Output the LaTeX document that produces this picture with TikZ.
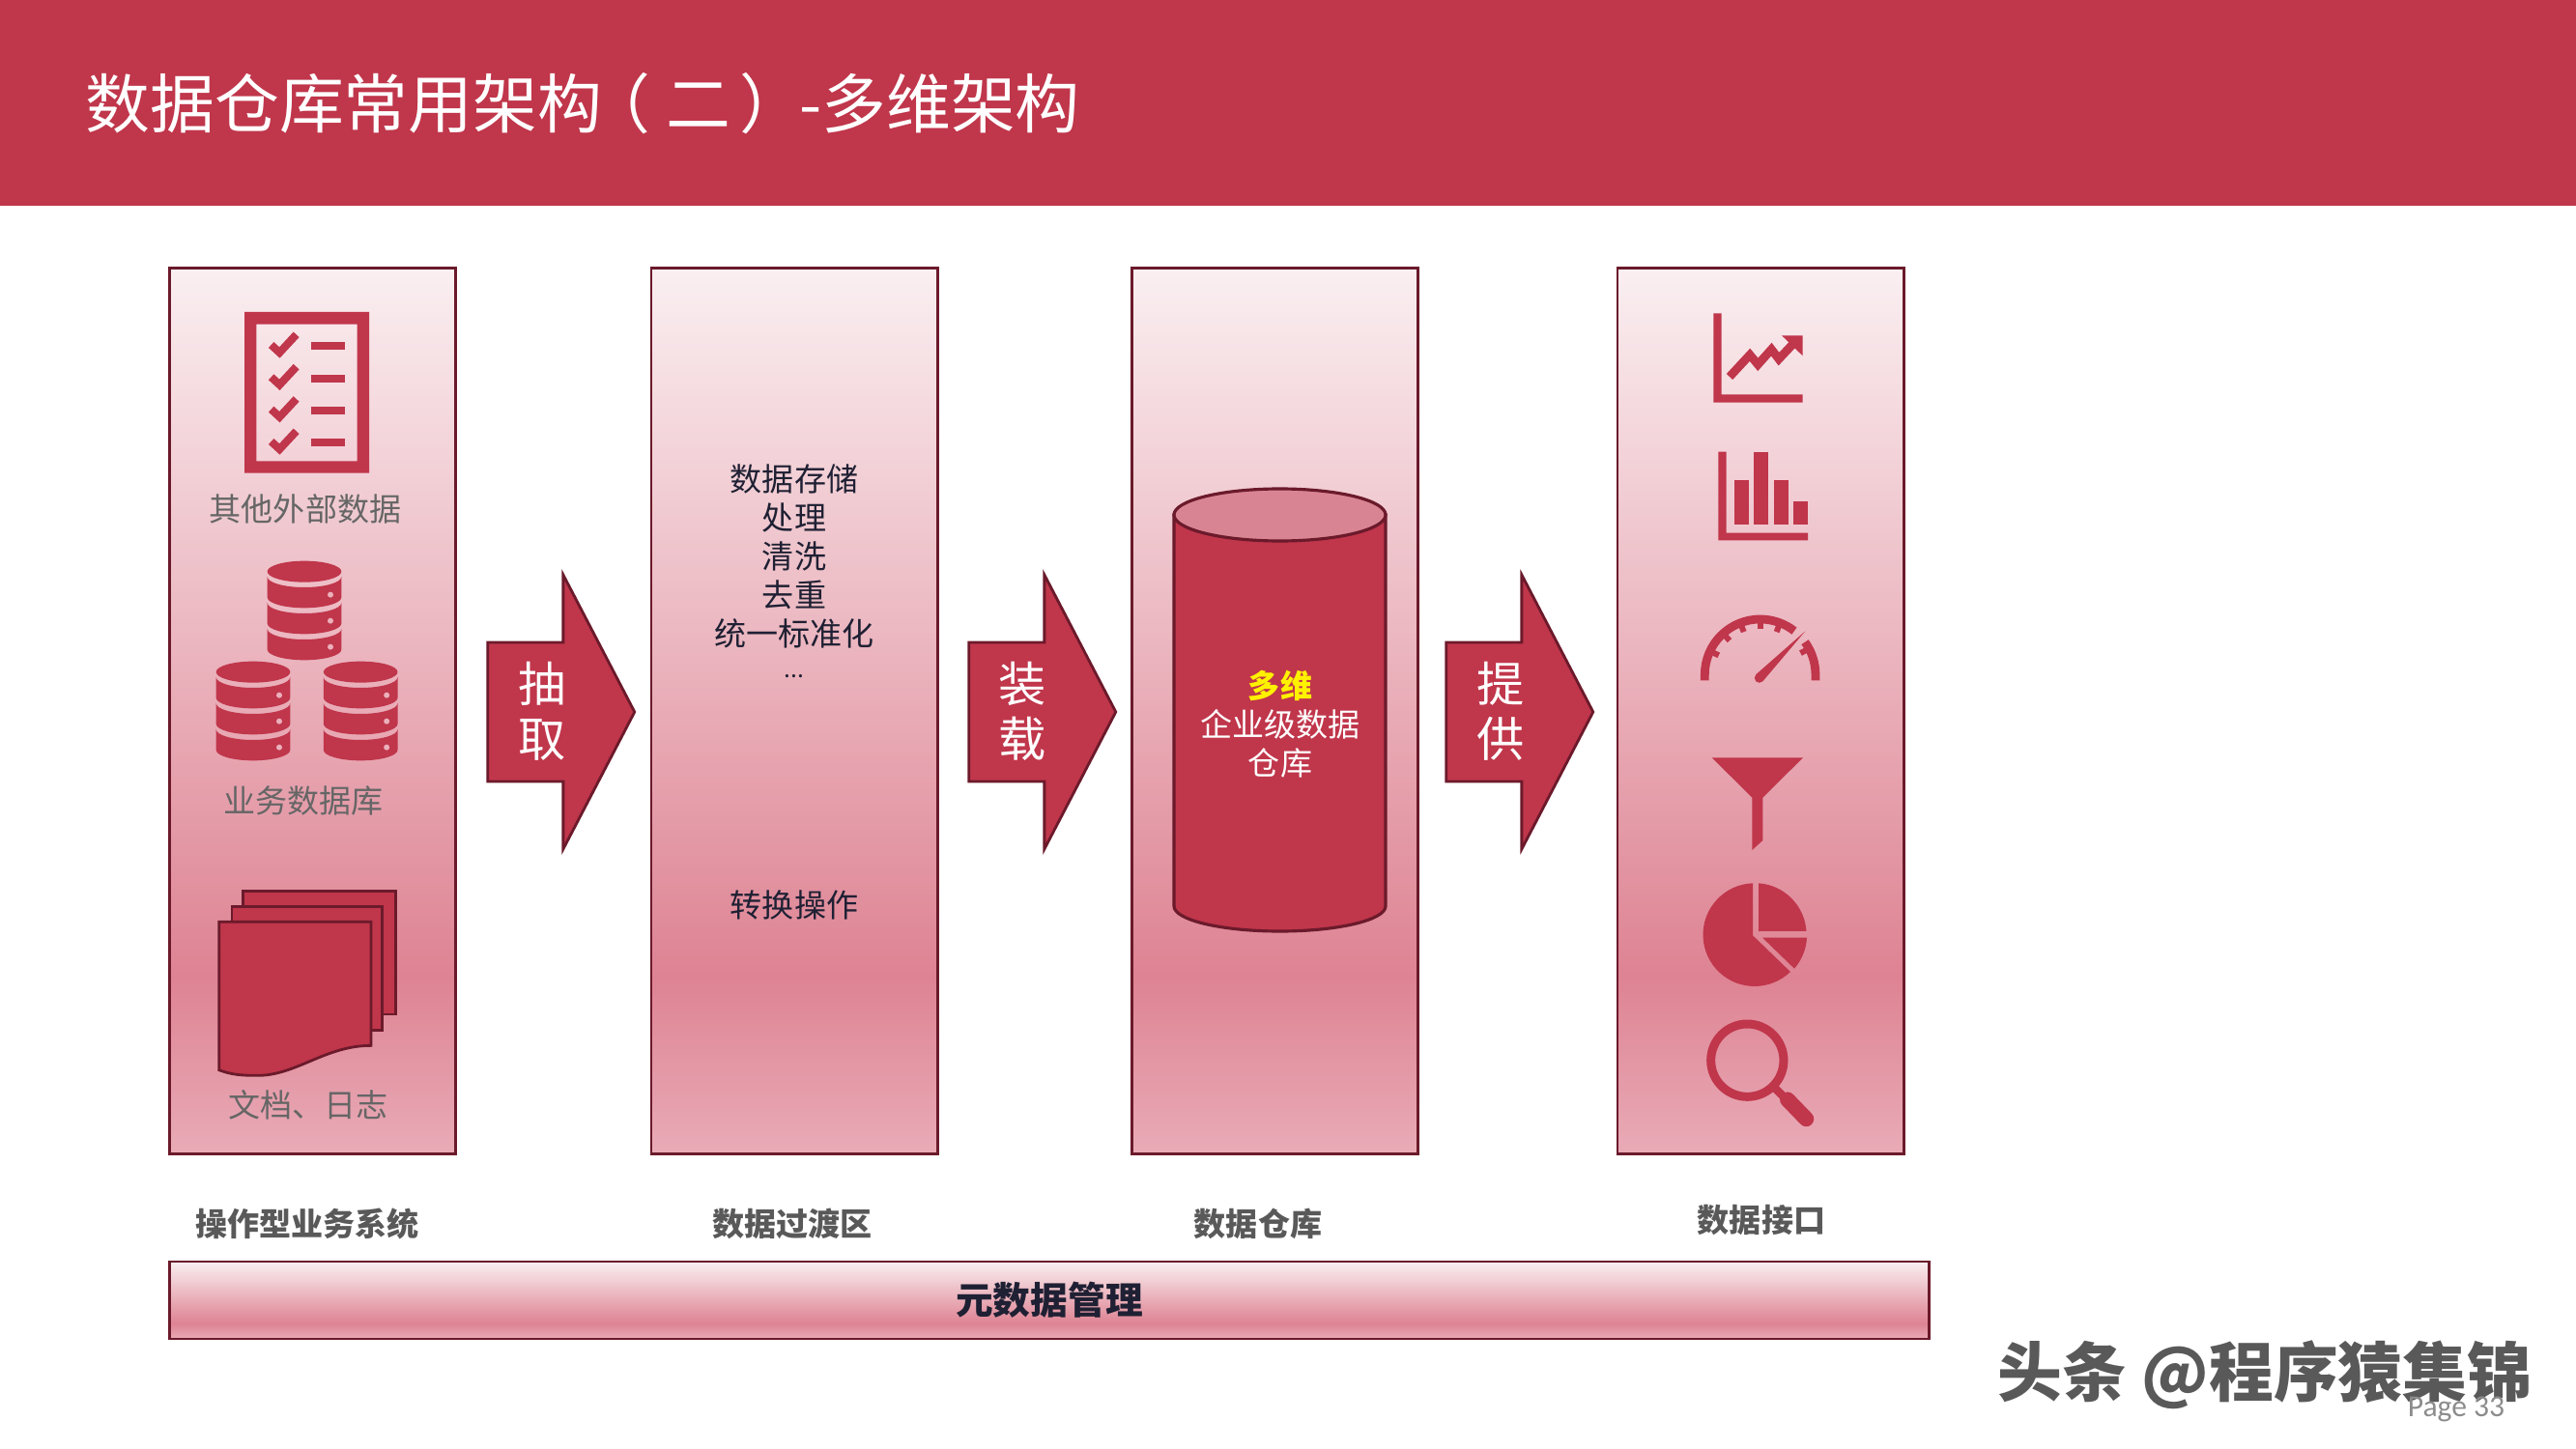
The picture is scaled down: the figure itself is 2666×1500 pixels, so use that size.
\documentclass[tikz,border=0pt]{standalone}
\usepackage{fontspec}
\setmainfont{Noto Sans CJK SC}
\newfontfamily\pagefont{Carlito}
\usepackage{tikz}
\usetikzlibrary{shapes.arrows}
\tikzset{>=stealth}

\definecolor{barred}{HTML}{C0364B}
\definecolor{darkred}{HTML}{6B1A2B}
\definecolor{shadetop}{HTML}{FAEFF1}
\definecolor{shademid}{HTML}{DE8393}
\definecolor{shadelow}{HTML}{E9ABB7}
\definecolor{capred}{HTML}{D98493}
\definecolor{holepink}{HTML}{EBB0BB}
\definecolor{greytext}{HTML}{666666}
\definecolor{labeltext}{HTML}{595959}
\definecolor{inktext}{HTML}{1F2033}
\pgfdeclareverticalshading{stageshade}{100bp}{color(0bp)=(shadelow); color(25bp)=(shadelow); color(35bp)=(shademid); color(75bp)=(shadetop); color(100bp)=(shadetop)}

\tikzset{
	stagebox/.style={draw=darkred, line width=0.8pt, shading=stageshade, inner sep=0pt},
	blockarrow/.style={single arrow, draw=darkred, line width=0.8pt, fill=barred, inner xsep=0pt, inner ysep=0.705cm,
		minimum height=1.52cm, minimum width=2.82cm, single arrow head extend=0.70cm, single arrow tip angle=125},
	arrowtext/.style={text=white, align=center, font=\fontsize{14}{16.2}\selectfont},
	smalltext/.style={align=center, font=\fontsize{9.4}{11.35}\selectfont},
	footlabel/.style={text=labeltext, font=\fontsize{9.4}{11.35}\selectfont\bfseries},
	icon/.style={fill=barred, draw=none},
	iconline/.style={draw=barred, line width=2.5pt},
	paper/.style={fill=barred, draw=darkred, line width=0.8pt}
}

\begin{document}
\begin{tikzpicture}[x=0.01cm, y=-0.01cm]
	\useasboundingbox (0,0) rectangle (2666,1500);
	
	\fill[barred] (0,0) rectangle (2666,213);
	\node[anchor=west, inner sep=0pt, text=white, font=\fontsize{19}{22}\selectfont] (TT) at (88,107) {数据仓库常用架构\kern-4.8pt（\kern4.8pt二\kern2.4pt）\kern-1.4pt-多维架构};
	
	\foreach \n/\x in {B1/323.5, B2/822, B3/1319.5, B4/1822}
		\node[stagebox, minimum width=2.96cm, minimum height=9.16cm] (\n) at (\x,736) {};
	
	\node[blockarrow] (A1) at (562,737) {};
	\node[blockarrow] (A2) at (1060,737) {};
	\node[blockarrow] (A3) at (1554,737) {};
	\node[arrowtext] (T1) at (561,736) {抽\\取};
	\node[arrowtext] (T2) at (1058,736) {装\\载};
	\node[arrowtext] (T3) at (1553,736) {提\\供};
	
	% left column
	\begin{scope}[shift={(160,260)}, scale=1/3]
		\fill[icon, even odd rule] (279,189) rectangle (666,689) (316,227) rectangle (629,652);
		\foreach \y in {0,100,200,300} {
			\draw[iconline, line width=2.3pt] (362,\y+291) -- (388,\y+315) -- (440,\y+259);
			\fill[icon] (486,\y+283) rectangle (591,\y+307);
		}
		\foreach \dx/\dy in {0/0, -159/312, 174.5/312} {
			\fill[icon] (465+\dx,995+\dy) ellipse [x radius=115, y radius=33];
			\foreach \y in {0,81,162} {
				\fill[icon] (350+\dx,\y+\dy+1011) arc [start angle=180, end angle=0, x radius=115, y radius=33]
					-- (580+\dx,\y+\dy+1075) arc [start angle=0, end angle=180, x radius=115, y radius=33] -- cycle;
				\fill[holepink] (546+\dx,\y+\dy+1067) circle [radius=9];
			}
		}
	\end{scope}
	\begin{scope}[shift={(160,760)}, scale=1/3]
		\draw[paper] (275,487) -- (748,487) -- (748,870) -- (640,870) -- (275,870) -- cycle;
		\draw[paper] (240,535) -- (706,535) -- (706,920) -- (600,920) -- (240,920) -- cycle;
		\draw[paper] (200,583) -- (672,583) -- (672,967) .. controls (530,967) and (440,1060) .. (320,1060) .. controls (270,1060) and (240,1058) .. (200,1043) -- cycle;
	\end{scope}
	\node[smalltext, text=greytext] (L1) at (316,527) {其他外部数据};
	\node[smalltext, text=greytext] (L2) at (314,829) {业务数据库};
	\node[smalltext, text=greytext] (L3) at (319,1144) {文档、日志};
	
	% transition column
	\node[smalltext, text=inktext] (M1) at (822,591) {数据存储\\处理\\清洗\\去重\\统一标准化\\[-2pt]{\fontsize{7}{8}\selectfont ...}};
	\node[smalltext, text=inktext] (M2) at (822,937) {转换操作};
	
	% warehouse cylinder
	\draw[line width=0.9pt, draw=darkred, fill=barred] (1215,533) -- (1215,938) arc [start angle=180, end angle=0, x radius=109.5, y radius=26] -- (1434,533) -- cycle;
	\draw[line width=0.9pt, draw=darkred, fill=capred] (1324.5,533) ellipse [x radius=109.5, y radius=27];
	\node[smalltext, text=white] (C1) at (1325,750) {{\color{yellow}\bfseries 多维}\\企业级数据\\仓库};
	
	% output icons
	\begin{scope}[shift={(1740,290)}, scale=1/3]
		\fill[icon] (100,103) -- (125,103) -- (125,355) -- (377,355) -- (377,380) -- (100,380) -- cycle;
		\draw[iconline] (150,300) -- (213,232) -- (238,262) -- (280,215) -- (303,245) -- (350,195);
		\fill[icon] (312,172) -- (377,172) -- (377,235) -- cycle;
		\fill[icon] (115,533) -- (140,533) -- (140,785) -- (393,785) -- (393,808) -- (115,808) -- cycle;
		\foreach \l/\t in {164/620, 225/533, 287/620, 348/688}
			\fill[icon] (\l,\t) rectangle (\l+45,760);
		\draw[barred, line width=2.5pt] (73,1243) -- (73,1225) arc [start angle=180, end angle=308, radius=172];
		\draw[barred, line width=2.5pt] (384,1124) arc [start angle=324, end angle=360, radius=172] -- (417,1243);
		\foreach \a in {155,132,111,90,69,28}
			\draw[barred, line width=1.7pt] (245,1225) ++({cos(\a)*172},{-sin(\a)*172}) -- ++({-cos(\a)*30},{sin(\a)*30});
		\fill[icon] (385,1090) -- (253,1246) arc [start angle=45, end angle=225, radius=15] -- cycle;
	\end{scope}
	\begin{scope}[shift={(1740,760)}, scale=1/3]
		\fill[icon] (95,73) -- (378,73) -- (253,197) -- (253,330) -- (220,360) -- (220,197) -- cycle;
		\fill[icon] (222,625) -- (222,463) arc [start angle=-92, end angle=-314, radius=160] -- cycle;
		\fill[icon] (240,612) -- (240,463) arc [start angle=-86, end angle=-4, radius=160] -- cycle;
		\fill[icon] (252,632) -- (390,632) arc [start angle=3.2, end angle=41, radius=160] -- cycle;
		\draw[barred, line width=2.55pt] (205,1013) circle [radius=113];
		\draw[barred, line width=2.4pt] (285,1093) -- (330,1138);
		\draw[barred, line width=4.5pt, line cap=round] (330,1135) -- (388,1195);
	\end{scope}
	
	\node[footlabel] (F1) at (318,1267) {操作型业务系统};
	\node[footlabel] (F2) at (820,1267) {数据过渡区};
	\node[footlabel] (F3) at (1302,1267) {数据仓库};
	\node[footlabel] (F4) at (1823,1263) {数据接口};
	\node[stagebox, minimum width=18.2cm, minimum height=0.8cm, text=inktext, font=\fontsize{11}{13}\selectfont\bfseries] (MB) at (1086,1346) {元数据管理};
	
	\node[text=black!65, font=\fontsize{19}{22}\selectfont\bfseries, inner sep=0pt] (WM) at (2344,1423) {头条 @程序猿集锦};
	\node[text=black!45, font=\fontsize{9}{10}\selectfont\pagefont, inner sep=0pt] (PG) at (2542,1459) {Page 33};
\end{tikzpicture}
\end{document}
